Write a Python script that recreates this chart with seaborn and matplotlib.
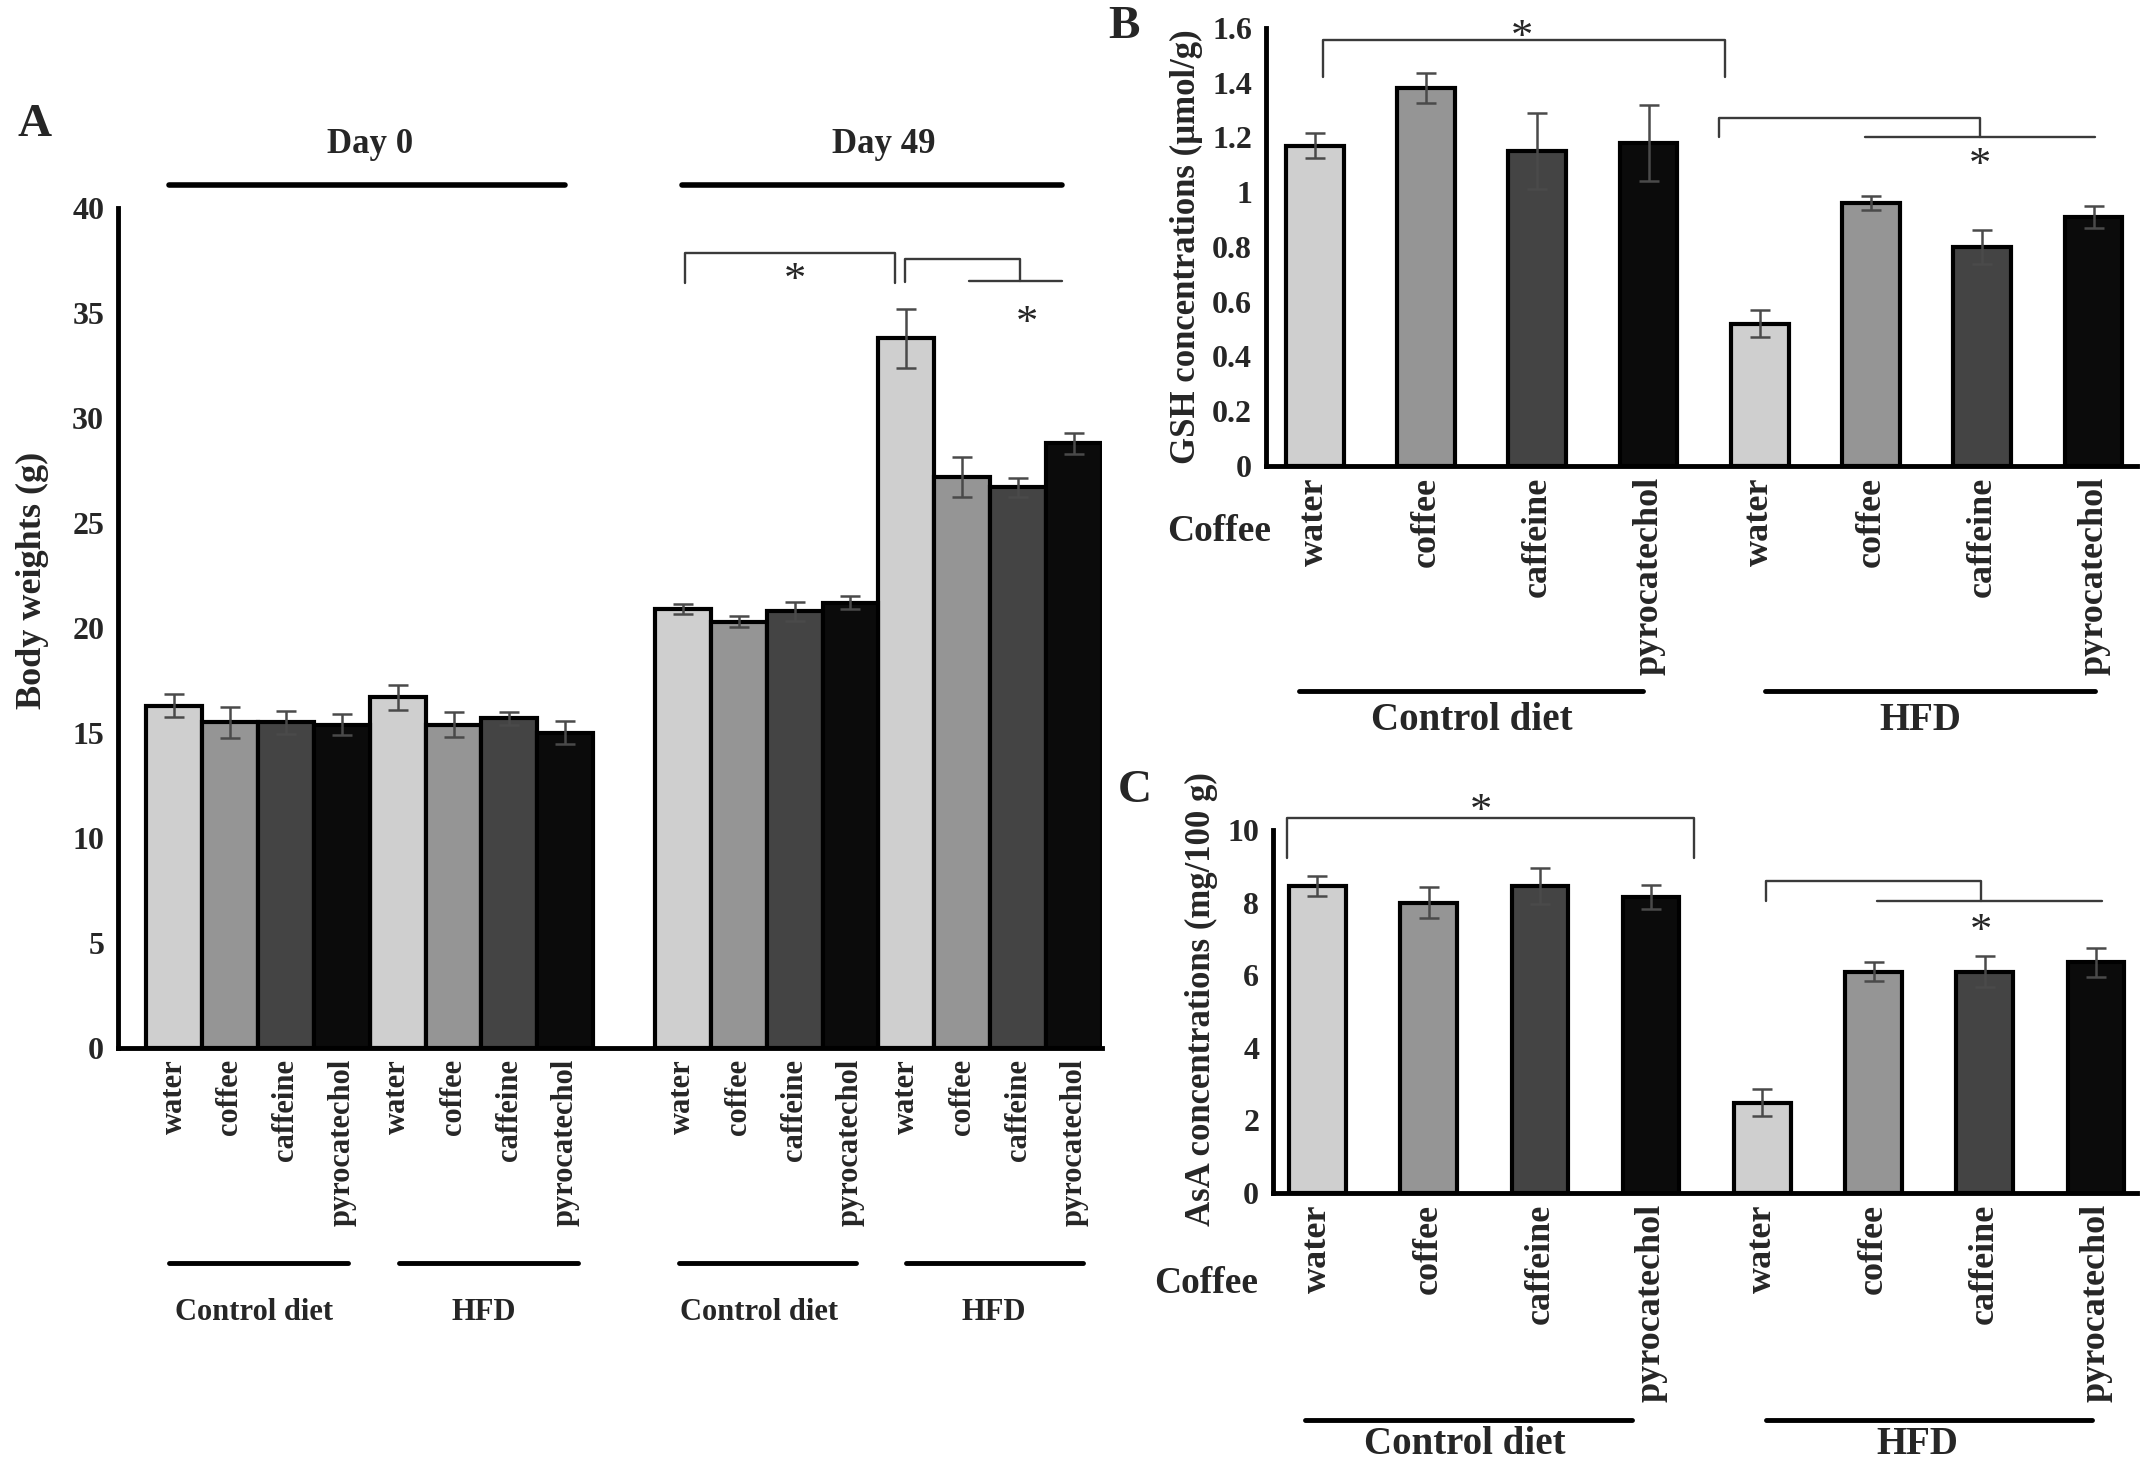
import numpy as np
import pandas as pd
import matplotlib
matplotlib.use('Agg')
from matplotlib import pyplot as plt
import seaborn as sns

drinks = ['water', 'coffee', 'caffeine', 'pyrocatechol']
colors = {'water': '#cfcfcf', 'coffee': '#959595', 'caffeine': '#444444', 'pyrocatechol': '#0b0b0b'}

# panel A: body weights (g), Control diet then HFD
bw_day0 = [16.3, 15.5, 15.5, 15.4, 16.7, 15.4, 15.7, 15.0]
bw_day0_err = [0.55, 0.75, 0.55, 0.5, 0.6, 0.6, 0.3, 0.55]
bw_day49 = [20.9, 20.3, 20.8, 21.2, 33.8, 27.2, 26.7, 28.8]
bw_day49_err = [0.25, 0.25, 0.45, 0.3, 1.4, 0.95, 0.45, 0.5]

# panel B: GSH (umol/g)
gsh = [1.17, 1.38, 1.15, 1.18, 0.52, 0.96, 0.80, 0.91]
gsh_err = [0.045, 0.055, 0.14, 0.14, 0.05, 0.025, 0.063, 0.04]

# panel C: AsA (mg/100 g)
asa = [8.45, 8.0, 8.45, 8.15, 2.48, 6.1, 6.1, 6.35]
asa_err = [0.28, 0.42, 0.5, 0.33, 0.37, 0.25, 0.42, 0.4]

a_ticks = list(range(0, 45, 5))
b_ticks = ['0', '0.2', '0.4', '0.6', '0.8', '1', '1.2', '1.4', '1.6']
c_ticks = list(range(0, 12, 2))

sns.set_style('white')
plt.rcParams['font.family'] = ['Liberation Serif', 'DejaVu Serif']
plt.rcParams['font.weight'] = 'bold'
plt.rcParams['axes.labelweight'] = 'bold'

LINE = '#3a3a3a'


def bars(ax, pos, vals, errs, width):
    df = pd.DataFrame({'pos': pos, 'val': vals, 'drink': drinks * (len(vals) // 4)})
    sns.barplot(data=df, x='pos', y='val', hue='drink', palette=colors, native_scale=True,
                width=width, dodge=False, edgecolor='black', linewidth=3, errorbar=None,
                legend=False, ax=ax)
    ax.errorbar(pos, vals, yerr=errs, fmt='none', ecolor='#4a4a4a', elinewidth=1.8,
                capsize=7, capthick=1.8, zorder=4)
    ax.set_xlabel('')
    ax.set_ylabel('')
    sns.despine(ax=ax)
    for s in ['left', 'bottom']:
        ax.spines[s].set_linewidth(3.5)
        ax.spines[s].set_color('black')


def bracket(ax, x0, x1, y0, ytop, y1, line=None):
    ax.plot([x0, x0, x1, x1], [y0, ytop, ytop, y1], color=LINE, lw=1.7, clip_on=False)
    if line is not None:
        ax.plot(line, [y1, y1], color=LINE, lw=1.7, clip_on=False)


def star(ax, x, y):
    ax.text(x, y, '*', ha='center', va='center', fontsize=32, fontweight='normal')


fig = plt.figure(figsize=(21.5, 14.63), dpi=100)

# ---------------- A ----------------
axA = fig.add_axes([0.0549, 0.2837, 0.4577, 0.5742])
posA = list(np.arange(8)) + list(np.arange(8) + 9.1)
bars(axA, posA, bw_day0 + bw_day49, bw_day0_err + bw_day49_err, 1.0)
axA.set_xlim(-1.0, 16.6)
axA.set_ylim(0, 40)
axA.set_yticks(a_ticks)
axA.set_yticklabels([str(t) for t in a_ticks], fontsize=23)
axA.set_xticks(posA)
axA.set_xticklabels(drinks * 4, rotation=90, fontsize=22, va='top')
axA.tick_params(axis='y', direction='out', length=6, width=2.5, pad=4)
axA.tick_params(axis='x', length=0, pad=8)

for xs in ([-0.09, 7.0], [9.08, 15.89]):
    axA.plot(xs, [41.1, 41.1], color='black', lw=4, clip_on=False)
axA.text(3.5, 43.0, 'Day 0', ha='center', va='center', fontsize=25)
axA.text(12.7, 43.0, 'Day 49', ha='center', va='center', fontsize=25)

bracket(axA, 9.14, 12.89, 36.4, 37.85, 36.4)
star(axA, 11.1, 36.5)
bracket(axA, 13.07, 15.14, 36.45, 37.55, 36.5, line=[14.22, 15.89])
star(axA, 15.25, 34.45)

trA = axA.get_xaxis_transform()
for xs in ([-0.09, 3.11], [4.03, 7.23], [9.04, 12.19], [13.1, 16.25]):
    axA.plot(xs, [-0.256, -0.256], color='black', lw=3.5, transform=trA, clip_on=False)
for x, t in zip([1.43, 5.54, 10.47, 14.66], ['Control diet', 'HFD', 'Control diet', 'HFD']):
    axA.text(x, -0.315, t, ha='center', va='center', fontsize=22, transform=trA)

fig.text(0.0149, 0.6036, 'Body weights (g)', rotation=90, ha='center', va='center', fontsize=26)
fig.text(0.0163, 0.9146, 'A', ha='center', va='center', fontsize=34)

# ---------------- B ----------------
axB = fig.add_axes([0.5888, 0.6815, 0.4051, 0.2994])
posBC = list(np.arange(8))
bars(axB, posBC, gsh, gsh_err, 0.52)
axB.set_xlim(-0.44, 7.39)
axB.set_ylim(0, 1.6)
axB.set_yticks(np.linspace(0, 1.6, 9))
axB.set_yticklabels(b_ticks, fontsize=23)
axB.set_xticks(posBC)
axB.set_xticklabels(drinks * 2, rotation=90, fontsize=26, va='top')
axB.tick_params(axis='y', length=0, pad=10)
axB.tick_params(axis='x', length=0, pad=8)

bracket(axB, 0.07, 3.69, 1.42, 1.555, 1.42)
star(axB, 1.86, 1.565)
bracket(axB, 3.63, 5.98, 1.2, 1.27, 1.2, line=[4.95, 7.01])
star(axB, 5.98, 1.095)

trB = axB.get_xaxis_transform()
for xs in ([-0.14, 2.95], [4.05, 7.01]):
    axB.plot(xs, [-0.514, -0.514], color='black', lw=3.5, transform=trB, clip_on=False)
for x, t in zip([1.41, 5.44], ['Control diet', 'HFD']):
    axB.text(x, -0.58, t, ha='center', va='center', fontsize=28, transform=trB)

fig.text(0.552, 0.8312, 'GSH concentrations (\u00b5mol/g)', rotation=90, ha='center', va='center', fontsize=25)
fig.text(0.591, 0.6364, 'Coffee', ha='right', va='center', fontsize=27)
fig.text(0.523, 0.9815, 'B', ha='center', va='center', fontsize=34)

# ---------------- C ----------------
axC = fig.add_axes([0.5921, 0.1846, 0.4019, 0.2481])
bars(axC, posBC, asa, asa_err, 0.51)
axC.set_xlim(-0.40, 7.37)
axC.set_ylim(0, 10)
axC.set_yticks(c_ticks)
axC.set_yticklabels([str(t) for t in c_ticks], fontsize=23)
axC.set_xticks(posBC)
axC.set_xticklabels(drinks * 2, rotation=90, fontsize=26, va='top')
axC.tick_params(axis='y', length=0, pad=10)
axC.tick_params(axis='x', length=0, pad=8)

bracket(axC, -0.27, 3.39, 9.24, 10.32, 9.24)
star(axC, 1.47, 10.5)
bracket(axC, 4.03, 5.97, 8.03, 8.6, 8.03, line=[5.03, 7.05])
star(axC, 5.97, 7.2)

trC = axC.get_xaxis_transform()
for xs in ([-0.11, 2.83], [4.03, 6.96]):
    axC.plot(xs, [-0.625, -0.625], color='black', lw=3.5, transform=trC, clip_on=False)
for x, t in zip([1.32, 5.39], ['Control diet', 'HFD']):
    axC.text(x, -0.694, t, ha='center', va='center', fontsize=28, transform=trC)

fig.text(0.559, 0.3172, 'AsA concentrations (mg/100 g)', rotation=90, ha='center', va='center', fontsize=25)
fig.text(0.585, 0.123, 'Coffee', ha='right', va='center', fontsize=27)
fig.text(0.528, 0.4593, 'C', ha='center', va='center', fontsize=34)

fig.savefig('out.png', dpi=100, facecolor='white')
